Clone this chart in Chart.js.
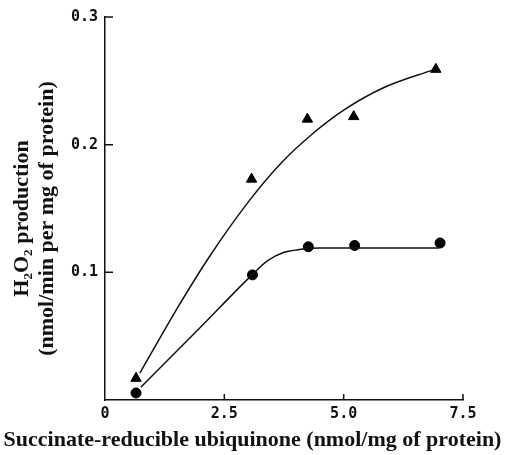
<!DOCTYPE html>
<html>
<head>
<meta charset="utf-8">
<script src="https://cdn.jsdelivr.net/npm/chart.js@4.4.0/dist/chart.umd.min.js"></script>
<style>
  html, body { margin: 0; padding: 0; background: #fff; }
  #wrap { width: 505px; height: 455px; }
</style>
</head>
<body>
<div id="wrap"><canvas id="myChart"></canvas></div>
<script>
// measured points
const triX = [0.65, 3.07, 4.24, 5.21, 6.93];
const triY = [0.017, 0.173, 0.220, 0.222, 0.259];
const dotX = [0.65, 3.09, 4.26, 5.23, 7.02];
const dotY = [0.0055, 0.098, 0.120, 0.121, 0.123];

// fitted curves
const triCurveX = [0.73, 1.5, 2.2, 3.0, 3.7, 4.3, 5.0, 5.8, 6.9];
const triCurveY = [0.021, 0.071, 0.113, 0.155, 0.186, 0.207, 0.227, 0.244, 0.259];
const dotCurveX = [0.75, 2.0, 3.08, 3.4, 3.74, 4.1, 4.5, 5.5, 7.0];
const dotCurveY = [0.010, 0.057, 0.098, 0.109, 0.1155, 0.118, 0.119, 0.119, 0.119];

const xTicks = [2.5, 5.0, 7.5];
const yTicks = [0.1, 0.2, 0.3];

const xTitle = "Succinate-reducible ubiquinone (nmol/mg of protein)";
const yTitle = ["H\u2082O\u2082 production", "(nmol/min per mg of protein)"];

const toPoints = (xs, ys) => xs.map((x, i) => ({ x: x, y: ys[i] }));

const tickFont = { family: "DejaVu Sans Mono", size: 15, weight: "bold" };
const titleFont = "bold 22px 'Liberation Serif'";

// tick marks point inward in the original
const inwardTicks = {
  id: "inwardTicks",
  afterDraw(chart) {
    const ctx = chart.ctx;
    const xs = chart.scales.x;
    const ys = chart.scales.y;
    ctx.save();
    ctx.strokeStyle = "#111";
    ctx.lineWidth = 1.5;
    ctx.beginPath();
    yTicks.forEach((v) => {
      const py = ys.getPixelForValue(v);
      ctx.moveTo(xs.left, py);
      ctx.lineTo(xs.left + 8, py);
    });
    xTicks.forEach((v) => {
      const px = xs.getPixelForValue(v);
      ctx.moveTo(px, ys.bottom);
      ctx.lineTo(px, ys.bottom - 6);
    });
    ctx.stroke();
    ctx.restore();
  },
};

// axis titles drawn by hand so they are not squeezed to the axis length
const axisTitles = {
  id: "axisTitles",
  afterDraw(chart) {
    const ctx = chart.ctx;
    const ys = chart.scales.y;
    ctx.save();
    ctx.fillStyle = "#111";
    ctx.font = titleFont;
    ctx.textAlign = "center";
    ctx.textBaseline = "middle";
    ctx.fillText(xTitle, chart.width / 2, 440);
    const cy = (ys.top + ys.bottom) / 2 + 10;
    ctx.translate(0, cy);
    ctx.rotate(-Math.PI / 2);
    ctx.fillText(yTitle[0], 0, 22);
    ctx.fillText(yTitle[1], 0, 47);
    ctx.restore();
  },
};

const data = {
  datasets: [
    {
      data: toPoints(triCurveX, triCurveY),
      showLine: true,
      borderColor: "#111",
      borderWidth: 1.5,
      pointRadius: 0,
      cubicInterpolationMode: "monotone",
    },
    {
      data: toPoints(dotCurveX, dotCurveY),
      showLine: true,
      borderColor: "#111",
      borderWidth: 1.5,
      pointRadius: 0,
      cubicInterpolationMode: "monotone",
    },
    {
      data: toPoints(triX, triY),
      pointStyle: "triangle",
      pointRadius: 6,
      backgroundColor: "#000",
      borderColor: "#000",
    },
    {
      data: toPoints(dotX, dotY),
      pointStyle: "circle",
      pointRadius: 5,
      backgroundColor: "#000",
      borderColor: "#000",
    },
  ],
};

const config = {
  type: "scatter",
  data: data,
  plugins: [inwardTicks, axisTitles],
  options: {
    responsive: true,
    maintainAspectRatio: false,
    animation: false,
    layout: { padding: { top: 17, right: 42, left: 0, bottom: 0 } },
    plugins: { legend: { display: false }, tooltip: { enabled: false } },
    scales: {
      x: {
        type: "linear",
        min: 0,
        max: 7.5,
        afterFit: (scale) => { scale.height = 55; },
        grid: { display: false, drawTicks: false },
        border: { display: true, color: "#111", width: 1.5 },
        ticks: {
          stepSize: 2.5,
          color: "#111",
          font: tickFont,
          padding: 5,
          maxRotation: 0,
          callback: (v) => (v === 0 ? "0" : v.toFixed(1)),
        },
      },
      y: {
        type: "linear",
        min: 0,
        max: 0.3,
        afterFit: (scale) => { scale.width = 105; },
        grid: { display: false, drawTicks: false },
        border: { display: true, color: "#111", width: 1.5 },
        ticks: {
          stepSize: 0.1,
          color: "#111",
          font: tickFont,
          padding: 7,
          callback: (v) => (v === 0 ? null : v.toFixed(1)),
        },
      },
    },
  },
};

const chart = new Chart(document.getElementById("myChart"), config);
</script>
</body>
</html>
